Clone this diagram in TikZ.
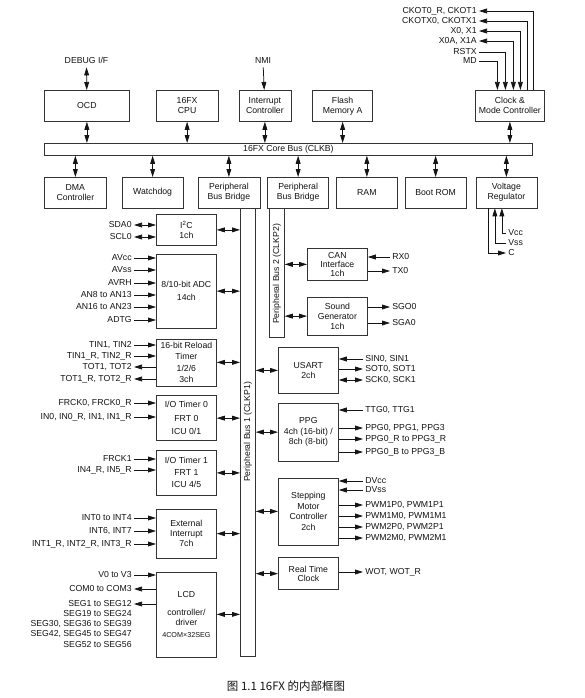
\documentclass[tikz,border=0pt]{standalone}
\usepackage{fontspec}
\setmainfont{Liberation Sans}
\newfontfamily\cjkfont{Noto Sans CJK SC}
\usetikzlibrary{arrows.meta,positioning}
\newcommand\blkfont{\fontsize{8.7}{10}\selectfont}

\begin{document}
\begin{tikzpicture}[x=1pt,y=-1pt,color=black!92,line width=0.75pt,
    >={Triangle[length=8pt,width=4.8pt]},
    blk/.style={draw=black!80,minimum width=60pt,align=center,font=\blkfont,inner sep=1pt},
    sig/.style={font=\blkfont,inner sep=2pt,text height=6.3pt,text depth=1.6pt},
    sigin/.style={->},sigout/.style={<-},sigbi/.style={<->}]
  \path[use as bounding box,fill=white] (0,0) rectangle (584,698);

  % core bus and the blocks on it
  \node[draw=black!80,minimum width=488pt,minimum height=12pt,inner sep=0pt,font=\blkfont,anchor=north west] (cbus) at (44,143) {16FX Core Bus (CLKB)};
  \node[blk,minimum width=85pt,minimum height=31pt,anchor=north west] (ocd) at (44,90) {OCD};
  \node[blk,minimum width=62pt,minimum height=31pt,right=26pt of ocd] (cpu) {16FX\\CPU};
  \node[blk,minimum width=52pt,minimum height=31pt,right=20pt of cpu] (intc) {Interrupt\\Controller};
  \node[blk,minimum width=60pt,minimum height=31pt,right=21pt of intc] (flash) {Flash\\Memory A};
  \node[blk,minimum width=69pt,minimum height=31pt,right=102pt of flash] (clk) {Clock \&\\Mode Controller};

  \node[blk,minimum width=62pt,minimum height=30.5pt,anchor=north west] (dma) at (44,177) {DMA\\Controller};
  \node[blk,minimum width=61pt,minimum height=30.5pt,right=15pt of dma] (wdt) {Watchdog};
  \node[blk,minimum width=62pt,minimum height=30.5pt,right=14pt of wdt] (pbb1) {Peripheral\\Bus Bridge};
  \node[blk,minimum width=61pt,minimum height=30.5pt,right=7pt of pbb1] (pbb2) {Peripheral\\Bus Bridge};
  \node[blk,minimum width=61pt,minimum height=30.5pt,right=7pt of pbb2] (ram) {RAM};
  \node[blk,minimum width=61pt,minimum height=30.5pt,right=7pt of ram] (brom) {Boot ROM};
  \node[blk,minimum width=61pt,minimum height=30.5pt,right=9pt of brom] (vreg) {Voltage\\Regulator};

  \foreach \b in {ocd,cpu,intc,flash,clk}
    \draw[<->] (\b.south) -- (\b.south |- cbus.north);
  \foreach \b in {dma,wdt,pbb1,pbb2,ram,brom,vreg}
    \draw[<->] (\b.north) -- (\b.north |- cbus.south);

  \node[sig] (dbg) at (86.5,61) {DEBUG I/F};
  \node[sig] (nmi) at (263,61) {NMI};
  \draw[<->] (dbg) -- (ocd);
  \draw[->] (nmi) -- (intc);

  % clock pins
  \node[sig,anchor=east] (ckot) at (479,11) {CKOT0\_R, CKOT1};
  \node[sig,anchor=east] (ckotx) at (479,21) {CKOTX0, CKOTX1};
  \node[sig,anchor=east] (xo) at (479,31) {X0, X1};
  \node[sig,anchor=east] (xoa) at (479,41) {X0A, X1A};
  \node[sig,anchor=east] (rstx) at (479,52) {RSTX};
  \node[sig,anchor=east] (md) at (479,61) {MD};
  \draw[->] ([xshift=23.5pt]clk.north) |- (ckot);
  \draw[->] ([xshift=17.5pt]clk.north) |- (ckotx);
  \draw[<->] (xo) -| ([xshift=10.5pt]clk.north);
  \draw[<->] (xoa) -| ([xshift=3.5pt]clk.north);
  \draw[->] (rstx) -| ([xshift=-4.5pt]clk.north);
  \draw[->] (md) -| ([xshift=-12.5pt]clk.north);

  % regulator pins
  \node[sig,anchor=west] (vcc) at (506,233) {Vcc};
  \node[sig,anchor=west] (vss) at (506,243) {Vss};
  \node[sig,anchor=west] (cpin) at (506,253) {C};
  \draw[->] ([xshift=-18.5pt]vreg.south) |- (cpin);
  \draw[->] (vss) -| ([xshift=-11.5pt]vreg.south);
  \draw[->] (vcc) -| ([xshift=-4.5pt]vreg.south);

  % peripheral buses
  \node[draw=black!80,minimum width=15pt,minimum height=448pt,inner sep=0pt,anchor=north west] (pb1) at (240,207.5) {};
  \node[font=\blkfont,rotate=90] (pb1lbl) at (pb1.center) {Peripheral Bus 1 (CLKP1)};
  \node[draw=black!80,minimum width=15pt,minimum height=129pt,inner sep=0pt,anchor=north west] (pb2) at (269,207.5) {};
  \node[font=\blkfont,rotate=90] (pb2lbl) at ([yshift=-1.5pt]pb2.center) {Peripheral Bus 2 (CLKP2)};

  % left peripherals
  \node[blk,minimum height=31pt,anchor=north west] (i2c) at (156,214) {I\textsuperscript{2}C\\1ch};
  \node[blk,minimum height=74pt,below=8pt of i2c] (adc) {8/10-bit ADC\\[3pt]14ch};
  \node[blk,minimum height=47pt,below=10pt of adc] (rld) {16-bit Reload\\[1.3pt]Timer\\[1.3pt]1/2/6\\[1.3pt]3ch};
  \node[blk,minimum height=45pt,below=9pt of rld] (iot0) {I/O Timer 0\\[3.5pt]FRT 0\\[3.5pt]ICU 0/1};
  \node[blk,minimum height=45pt,below=9pt of iot0] (iot1) {I/O Timer 1\\[2pt]FRT 1\\[2pt]ICU 4/5};
  \node[blk,minimum height=49pt,below=13pt of iot1] (exti) {External\\Interrupt\\7ch};
  \node[blk,minimum height=85pt,below=13pt of exti] (lcd) {LCD\\[8pt]controller/\\driver\\[2pt]{\fontsize{7.2}{8}\selectfont 4COM×32SEG}};
  \foreach \b in {i2c,adc,rld,iot0,iot1,exti,lcd}
    \draw[<->] (\b.east) -- (\b.east -| pb1.west);

  \foreach \t/\y/\d/\b in {SDA0/225/sigbi/i2c, SCL0/237/sigbi/i2c,
      AVcc/258/sigin/adc, AVss/270/sigin/adc, AVRH/283/sigin/adc,
      AN8 to AN13/295/sigin/adc, AN16 to AN23/307/sigin/adc, ADTG/320/sigin/adc,
      {TIN1, TIN2}/345/sigin/rld, {TIN1\_R, TIN2\_R}/356/sigin/rld,
      {TOT1, TOT2}/367/sigout/rld, {TOT1\_R, TOT2\_R}/379/sigout/rld,
      {FRCK0, FRCK0\_R}/403/sigin/iot0, {IN0, IN0\_R, IN1, IN1\_R}/417/sigin/iot0,
      FRCK1/459/sigin/iot1, {IN4\_R, IN5\_R}/470/sigin/iot1,
      INT0 to INT4/518/sigin/exti, {INT6, INT7}/531/sigin/exti,
      {INT1\_R, INT2\_R, INT3\_R}/544/sigin/exti,
      V0 to V3/575/sigin/lcd, COM0 to COM3/589/sigout/lcd, SEG1 to SEG12/604/sigout/lcd}
    {\node[sig,anchor=east] (l\y) at (134,\y) {\t};
     \draw[\d] (l\y) -- (l\y -| \b.west);}
  \foreach \t/\y in {SEG19 to SEG24/614, {SEG30, SEG36 to SEG39}/624,
      {SEG42, SEG45 to SEG47}/634, SEG52 to SEG56/645}
    \node[sig,anchor=east] (l\y) at (134,\y) {\t};

  % right peripherals
  \node[blk,minimum height=32pt,anchor=north west] (can) at (307,248) {CAN\\[-1pt]Interface\\[-1pt]1ch};
  \node[blk,minimum height=38pt,below=16pt of can] (sg) {Sound\\Generator\\1ch};
  \node[blk,minimum height=46pt,anchor=north west] (usart) at (278,347) {USART\\2ch};
  \node[blk,minimum height=58pt,below=9pt of usart] (ppg) {PPG\\[0.5pt]4ch (16-bit) /\\[0.5pt]8ch (8-bit)};
  \node[blk,minimum height=67pt,below=16pt of ppg] (smc) {Stepping\\[0.5pt]Motor\\[0.5pt]Controller\\[0.5pt]2ch};
  \node[blk,minimum height=32pt,below=12pt of smc] (rtc) {Real Time\\[-1pt]Clock};
  \foreach \b in {usart,ppg,smc,rtc}
    \draw[<->] (\b.west) -- (\b.west -| pb1.east);
  \foreach \b in {can,sg}
    \draw[<->] (\b.west) -- (\b.west -| pb2.east);

  \foreach \t/\y/\d/\b in {RX0/257/sigin/can, TX0/271/sigout/can,
      SGO0/307/sigout/sg, SGA0/323/sigout/sg}
    {\node[sig,anchor=west] (r\y) at (390,\y) {\t};
     \draw[\d] (r\y) -- (r\y -| \b.east);}
  \foreach \t/\y/\d/\b in {{SIN0, SIN1}/359/sigin/usart, {SOT0, SOT1}/369/sigout/usart,
      {SCK0, SCK1}/380/sigbi/usart,
      {TTG0, TTG1}/410/sigin/ppg, {PPG0, PPG1, PPG3}/428/sigout/ppg,
      PPG0\_R to PPG3\_R/439/sigout/ppg, PPG0\_B to PPG3\_B/452/sigout/ppg,
      DVcc/481/sigin/smc, DVss/490/sigin/smc,
      {PWM1P0, PWM1P1}/505/sigout/smc, {PWM1M0, PWM1M1}/516/sigout/smc,
      {PWM2P0, PWM2P1}/527/sigout/smc, {PWM2M0, PWM2M1}/538/sigout/smc,
      {WOT, WOT\_R}/572/sigout/rtc}
    {\node[sig,anchor=west] (r\y) at (363,\y) {\t};
     \draw[\d] (r\y) -- (r\y -| \b.east);}

  \node[font=\cjkfont\fontsize{11.5}{13}\selectfont] (cap) at (286,686) {图 1.1 16FX 的内部框图};
\end{tikzpicture}
\end{document}
